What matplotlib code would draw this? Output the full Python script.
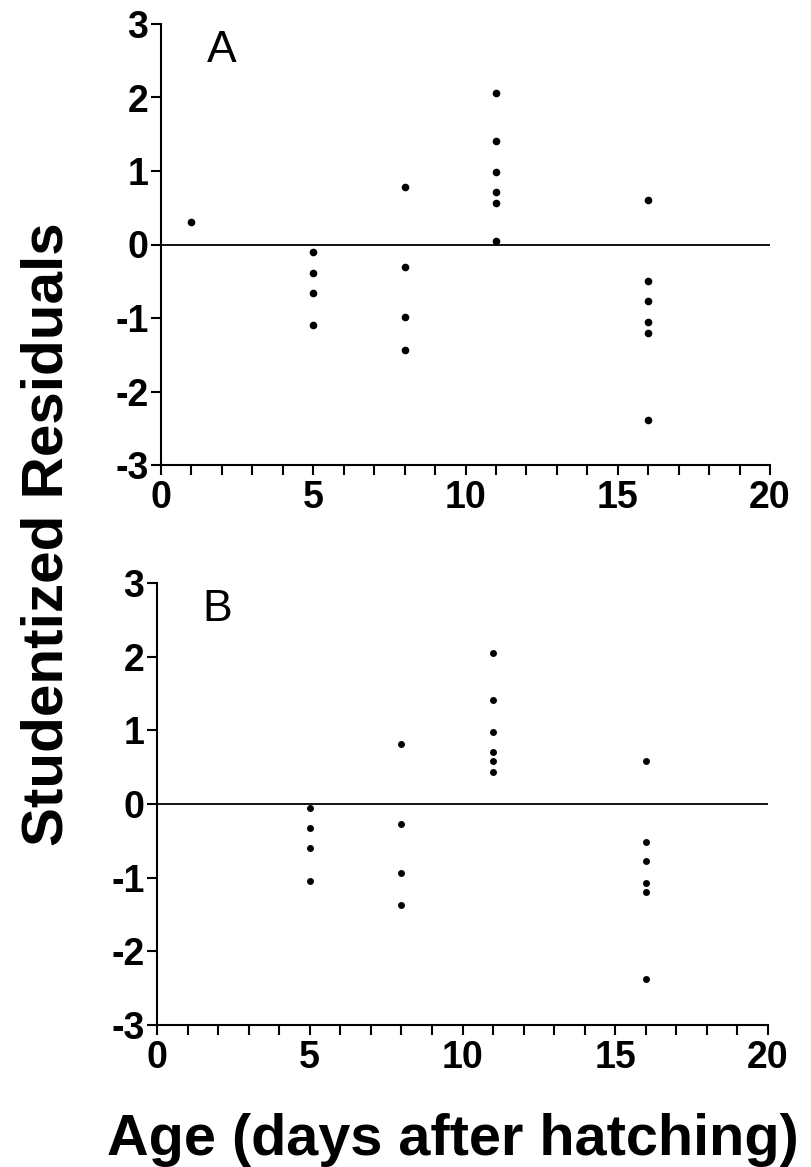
import matplotlib
matplotlib.use("Agg")
import matplotlib.pyplot as plt
from matplotlib.ticker import MultipleLocator

# 数据
ageA = [1, 5, 5, 5, 5, 8, 8, 8, 8, 11, 11, 11, 11, 11, 11, 16, 16, 16, 16, 16, 16]
residA = [0.30, -0.10, -0.39, -0.66, -1.09, 0.78, -0.30, -0.99, -1.43,
          2.06, 1.41, 0.98, 0.71, 0.57, 0.05, 0.61, -0.49, -0.77, -1.05, -1.20, -2.39]

ageB = [5, 5, 5, 5, 8, 8, 8, 8, 11, 11, 11, 11, 11, 11, 16, 16, 16, 16, 16, 16]
residB = [-0.05, -0.32, -0.60, -1.04, 0.82, -0.27, -0.94, -1.37,
          2.05, 1.41, 0.98, 0.71, 0.58, 0.44, 0.59, -0.51, -0.78, -1.07, -1.20, -2.37]

xticks = [0, 5, 10, 15, 20]
yticks = [-3, -2, -1, 0, 1, 2, 3]

plt.rcParams['font.family'] = ['Liberation Sans', 'DejaVu Sans']
plt.rcParams['axes.unicode_minus'] = False

fig = plt.figure(figsize=(8.11, 11.67), dpi=100)


def panel(rect, x, y, letter, ms):
    ax = fig.add_axes(rect)
    ax.plot(x, y, 'o', color='black', markersize=ms, markeredgewidth=0)
    ax.axhline(0, color='black', linewidth=1.3)
    ax.set_xlim(0, 20)
    ax.set_ylim(-3, 3)
    ax.set_xticks(xticks)
    ax.set_yticks(yticks)
    ax.xaxis.set_minor_locator(MultipleLocator(1))
    ax.spines['top'].set_visible(False)
    ax.spines['right'].set_visible(False)
    ax.spines['left'].set_linewidth(1.5)
    ax.spines['bottom'].set_linewidth(1.5)
    ax.tick_params(axis='both', which='both', direction='out', length=7, width=1.5)
    ax.tick_params(axis='x', which='major', labelsize=27, pad=4)
    ax.tick_params(axis='y', which='major', labelsize=27, pad=2)
    for lab in ax.get_xticklabels() + ax.get_yticklabels():
        lab.set_fontweight('bold')
    ax.text(0.075, 0.914, letter, transform=ax.transAxes, fontsize=32,
            ha='left', va='baseline')
    return ax


axA = panel([161 / 811, 1 - 465 / 1167, 609 / 811, 441 / 1167], ageA, residA, 'A', 5.5)
axB = panel([157 / 811, 1 - 1025 / 1167, 611 / 811, 442 / 1167], ageB, residB, 'B', 5)

# 共用的坐标轴标题
fig.text(63 / 811, 1 - 534 / 1167, 'Studentized Residuals', rotation=90,
         rotation_mode='anchor', ha='center', va='baseline',
         fontsize=42, fontweight='bold')
fig.text(453 / 811, 1 - 1155 / 1167, 'Age (days after hatching)',
         ha='center', va='baseline', fontsize=41.5, fontweight='bold')

fig.savefig('out.png', dpi=100)
